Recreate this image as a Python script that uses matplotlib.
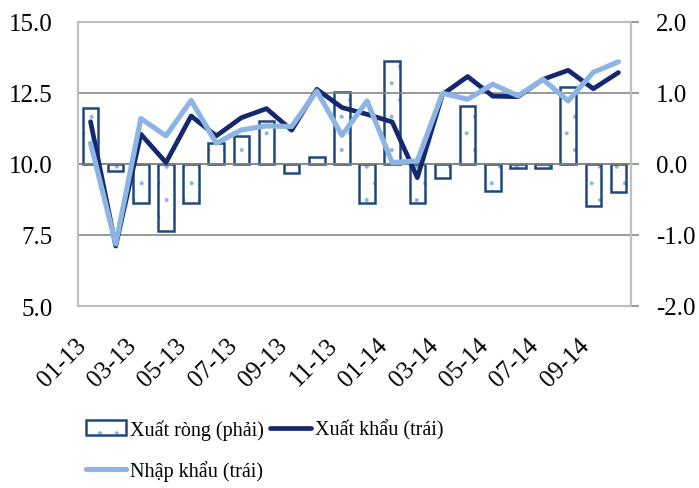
import matplotlib.pyplot as plt
from matplotlib.legend_handler import HandlerTuple

plt.rcParams['font.family'] = ['Liberation Serif', 'DejaVu Serif']
plt.rcParams['hatch.linewidth'] = 0.5

months = ['01-13', '02-13', '03-13', '04-13', '05-13', '06-13', '07-13', '08-13',
          '09-13', '10-13', '11-13', '12-13', '01-14', '02-14', '03-14', '04-14',
          '05-14', '06-14', '07-14', '08-14', '09-14', '10-14']
net_exports = [0.79, -0.10, -0.55, -0.94, -0.55, 0.29, 0.39, 0.61, -0.12, 0.10, 1.01,
               -0.55, 1.45, -0.55, -0.20, 0.81, -0.38, -0.06, -0.06, 1.08, -0.59, -0.40]
exports = [11.49, 7.11, 11.05, 10.05, 11.69, 10.99, 11.63, 11.95, 11.19, 12.63, 11.99,
           11.75, 11.48, 9.52, 12.45, 13.08, 12.39, 12.37, 12.98, 13.30, 12.65, 13.22]
imports = [10.73, 7.18, 11.60, 10.99, 12.24, 10.73, 11.20, 11.34, 11.32, 12.57, 11.01,
           12.22, 10.05, 10.11, 12.49, 12.28, 12.81, 12.40, 12.98, 12.22, 13.23, 13.60]

x = list(range(len(months)))

fig = plt.figure(figsize=(6.99, 4.89), dpi=100)
ax = fig.add_axes([78 / 699, 1 - 307 / 489, 553 / 699, 284 / 489])
ax2 = ax.twinx()

# bars on the right axis
b1 = ax2.bar(x, net_exports, width=0.62, color='white', edgecolor='#8DB4E2',
             linewidth=0, hatch='.')
b2 = ax2.bar(x, net_exports, width=0.62, color='none', edgecolor='#1F497D',
             linewidth=1.8)
ax2.set_ylim(-2, 2)
ax2.set_yticks([-2, -1, 0, 1, 2])
ax2.set_yticklabels(['-2.0', '-1.0', '0.0', '1.0', '2.0'])

# lines on the left axis, drawn above the bars
ax.set_zorder(ax2.get_zorder() + 1)
ax.patch.set_visible(False)
l1, = ax.plot(x, exports, color='#14286E', linewidth=3.4, solid_capstyle='round')
l2, = ax.plot(x, imports, color='#8DB4E2', linewidth=3.7, solid_capstyle='round')
ax.set_ylim(5, 15)
ax.set_yticks([5, 7.5, 10, 12.5, 15])
ax.set_yticklabels(['5.0', '7.5', '10.0', '12.5', '15.0'])
ax.set_xlim(-0.5, len(months) - 0.5)
ax.set_xticks(x[::2])
ax.set_xticklabels(months[::2], rotation=45, ha='right')

for y in [7.5, 10, 12.5]:
    ax.axhline(y, color='#868686', linewidth=1.2, zorder=0)
ax2.axhline(0, color='#868686', linewidth=1.2, zorder=0)

for a in (ax, ax2):
    for s in a.spines.values():
        s.set_color('#BFBFBF')
        s.set_linewidth(1.5)
ax2.spines['right'].set_color('#868686')

ax.tick_params(axis='y', length=0, pad=18, labelsize=18)
ax.tick_params(axis='x', length=0, pad=20, labelsize=18)
ax2.tick_params(axis='y', length=6, width=1.2, color='#868686', pad=12, labelsize=18)

fig.legend([(b1, b2), l2, l1],
           ['Xuất ròng (phải)', 'Nhập khẩu (trái)', 'Xuất khẩu (trái)'],
           handler_map={tuple: HandlerTuple(ndivide=1)},
           ncol=2, loc='upper left', bbox_to_anchor=(78 / 699, 1 - 412 / 489),
           frameon=False, fontsize=14.5, handlelength=2.0, handletextpad=0.2,
           columnspacing=0.3, labelspacing=1.0, borderaxespad=0)

fig.savefig('out.png', dpi=100)
